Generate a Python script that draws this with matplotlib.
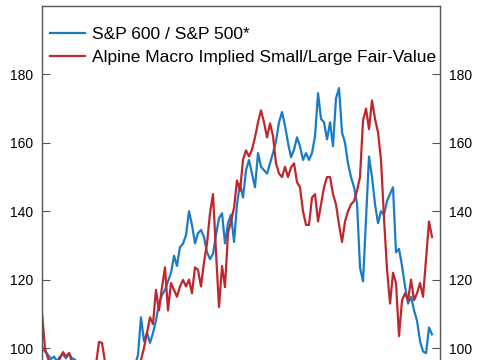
import matplotlib

matplotlib.use("Agg")
import matplotlib.pyplot as plt  # noqa: E402
import pandas as pd  # noqa: E402

plt.rcParams["font.family"] = ["Liberation Sans", "DejaVu Sans"]

BLUE, RED = "#1b7cc6", "#c0272d"

dates = pd.date_range("1990-01-01", periods=131, freq="QS")

sp600_sp500 = [
    100.3, 99.0, 98.0, 96.8, 97.5, 96.2, 97.5, 98.2, 97.0, 98.5,
    97.0, 96.6, 95.0, 94.5, 95.0, 94.0, 93.5, 93.0, 94.0, 93.0,
    92.0, 93.0, 92.0, 93.0, 92.5, 93.0, 92.0, 93.0, 94.0, 93.0,
    94.0, 95.0, 98.0, 109.0, 102.0, 104.5, 101.5, 104.4, 108.0, 113.0,
    115.5, 117.0, 119.5, 122.0, 127.0, 124.0, 129.5, 130.5, 133.0, 140.0,
    136.0, 130.6, 133.6, 134.5, 132.5, 128.0, 126.0, 127.5, 133.0, 138.0,
    139.4, 130.6, 136.5, 139.0, 131.0, 142.0, 148.0, 144.0, 152.0, 155.0,
    151.0, 147.0, 157.0, 153.0, 152.0, 151.0, 154.0, 157.0, 160.5, 166.0,
    169.0, 165.0, 160.0, 155.8, 158.0, 161.6, 159.0, 155.0, 157.0, 155.0,
    157.0, 162.0, 174.5, 167.0, 166.0, 161.0, 166.0, 159.0, 173.0, 176.0,
    163.0, 160.0, 154.0, 150.0, 147.0, 142.3, 123.5, 119.5, 138.0, 156.0,
    150.0, 142.0, 136.5, 140.0, 139.0, 143.0, 145.0, 147.0, 128.0, 129.0,
    124.0, 118.0, 113.0, 115.0, 111.0, 108.0, 102.0, 99.0, 98.5, 106.0,
    104.0,
]

fair_value = [
    110.2, 100.0, 97.0, 95.5, 96.0, 95.0, 97.0, 98.8, 97.5, 98.5,
    96.0, 95.0, 94.0, 93.5, 94.0, 93.0, 94.0, 93.0, 95.0, 101.8,
    101.5, 96.0, 93.0, 92.0, 93.0, 92.0, 93.0, 92.0, 93.0, 94.0,
    93.0, 94.0, 95.0, 96.5, 100.0, 104.4, 109.0, 107.0, 117.0, 111.0,
    117.8, 123.6, 111.0, 119.0, 117.0, 115.0, 118.0, 119.9, 118.0, 120.0,
    116.0, 123.6, 122.8, 118.0, 125.0, 130.6, 139.4, 145.0, 128.0, 112.0,
    124.0, 117.8, 133.6, 137.0, 141.0, 149.0, 146.0, 155.0, 157.8, 156.0,
    158.0, 161.6, 166.0, 169.5, 166.0, 161.6, 165.7, 162.0, 154.0, 151.0,
    150.0, 153.0, 150.0, 152.8, 154.0, 148.5, 147.0, 140.0, 136.0, 136.0,
    144.0, 145.0, 137.0, 142.0, 147.0, 150.0, 150.0, 145.0, 142.0, 136.0,
    131.0, 137.0, 140.0, 142.0, 143.0, 146.0, 150.0, 166.6, 170.0, 164.0,
    172.4, 167.0, 163.0, 155.0, 138.0, 123.0, 113.0, 122.0, 119.0, 103.5,
    114.0, 116.0, 114.0, 120.0, 114.0, 116.0, 119.0, 115.0, 126.0, 137.0,
    132.5,
]

yticks = [100, 120, 140, 160, 180]

fig = plt.figure(figsize=(4.85, 3.6), dpi=100)
ax = fig.add_axes([0.0866, 0.0, 0.8206, 0.9833])

ax.plot(dates, sp600_sp500, color=BLUE, linewidth=1.6, label="S&P 600 / S&P 500*")
ax.plot(dates, fair_value, color=RED, linewidth=1.6,
        label="Alpine Macro Implied Small/Large Fair-Value")

ax.set_ylim(96.5, 200)
ax.set_xlim(dates[0], pd.Timestamp("2023-03-01"))
ax.set_yticks(yticks)
ax.set_xticks([])
ax.tick_params(axis="y", direction="in", length=6, width=0.8, color="#555555",
               left=True, right=True, labelleft=True, labelright=True,
               labelsize=10, pad=6.5)
for side in ["left", "right", "top"]:
    ax.spines[side].set_color("#555555")
    ax.spines[side].set_linewidth(1.0)
ax.spines["bottom"].set_visible(False)

ax.legend(loc="upper left", bbox_to_anchor=(0.02, 0.94), frameon=False,
          fontsize=12.5, handlelength=2.0, handletextpad=0.4,
          labelspacing=0.42, borderpad=0, borderaxespad=0)

fig.savefig("out.png", dpi=100)
